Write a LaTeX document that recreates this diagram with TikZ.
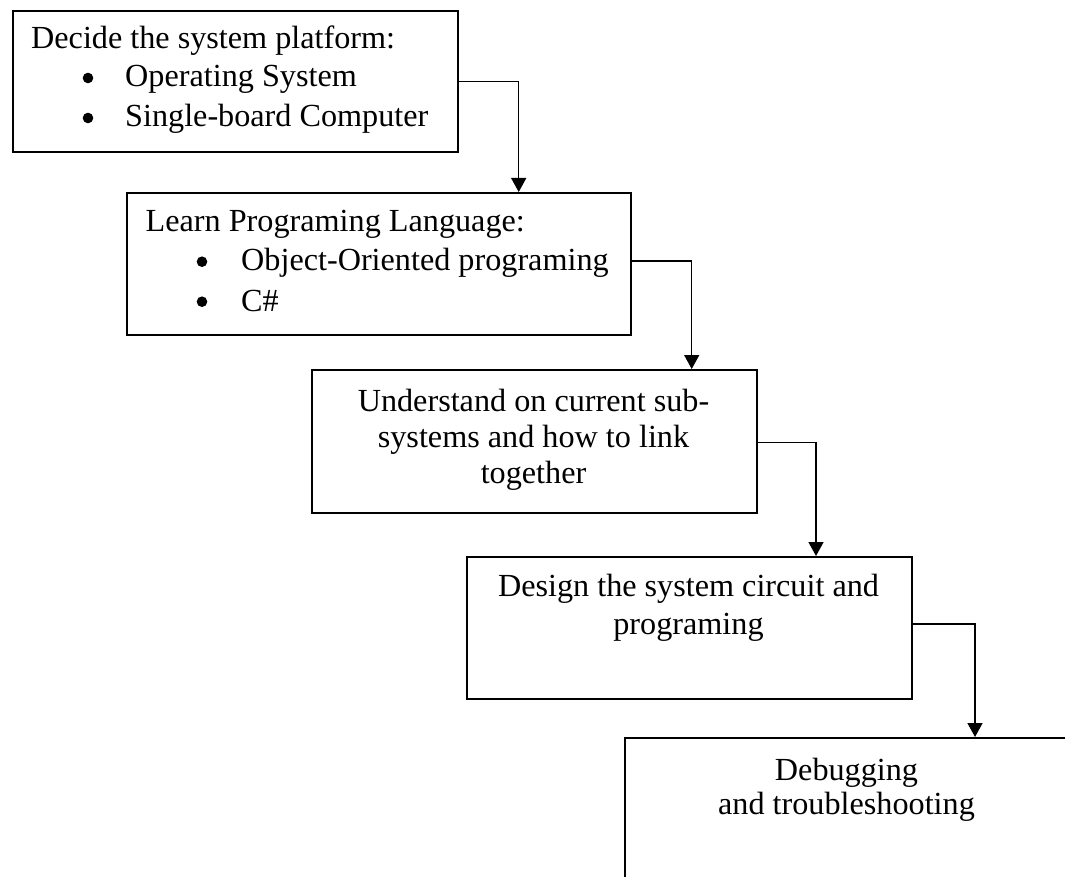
\documentclass[tikz,border=0pt]{standalone}
\usepackage{fontspec}
\setmainfont{Liberation Serif}
\usetikzlibrary{arrows.meta,calc}
\begin{document}
\begin{tikzpicture}[x=1pt,y=-1pt,
  box/.style={draw, line width=1.8pt, rectangle, anchor=north west, inner sep=0pt},
  txt/.style={font=\fontsize{32.2}{38}\selectfont, inner sep=0pt},
  conn/.style={line width=1.5pt, -{Triangle[width=15pt,length=14pt]}},
  bul/.style={fill=black}]
\useasboundingbox (0,0) rectangle (1065,877);
\clip (0,0) rectangle (1065,877);
\fill[white] (0,0) rectangle (1065,877);

% Box 1
\node[box, minimum width=445.3pt, minimum height=141pt] (b1) at (11.7,10) {};
\node[txt, anchor=base west] (t1a) at (31,49) {Decide the system platform:};
\fill[bul] (88,78) circle[radius=5.3pt];
\node[txt, anchor=base west] (t1b) at (125,87) {Operating System};
\fill[bul] (88,118) circle[radius=5.3pt];
\node[txt, anchor=base west] (t1c) at (125,127) {Single-board Computer};

% Box 2
\node[box, minimum width=504pt, minimum height=142pt] (b2) at (126,192) {};
\node[txt, anchor=base west] (t2a) at (145.5,232) {Learn Programing Language:};
\fill[bul] (202,261.7) circle[radius=5.3pt];
\node[txt, anchor=base west] (t2b) at (241,271) {Object-Oriented programing};
\fill[bul] (202,301.7) circle[radius=5.3pt];
\node[txt, anchor=base west] (t2c) at (241,311) {C\#};

% Box 3
\node[box, minimum width=445pt, minimum height=143pt] (b3) at (311,369) {};
\node[txt, anchor=base] (t3a) at (533.5,411) {Understand on current sub-};
\node[txt, anchor=base] (t3b) at (533.5,447) {systems and how to link};
\node[txt, anchor=base] (t3c) at (533.5,483) {together};

% Box 4
\node[box, minimum width=445pt, minimum height=142pt] (b4) at (466,556) {};
\node[txt, anchor=base] (t4a) at (688.5,596) {Design the system circuit and};
\node[txt, anchor=base] (t4b) at (688.5,634) {programing};

% Box 5
\node[box, minimum width=445pt, minimum height=145pt] (b5) at (624,737) {};
\node[txt, anchor=base] (t5a) at (846.5,780) {Debugging};
\node[txt, anchor=base] (t5b) at (846.5,814) {and troubleshooting};

% Connectors
\draw[conn] ($(b1.north east)+(0,71.7)$) -| ($(b2.north west)+(392.7,0)$);
\draw[conn] ($(b2.north east)+(0,69)$) -| ($(b3.north west)+(380.7,0)$);
\draw[conn] ($(b3.north east)+(0,73.3)$) -| ($(b4.north west)+(350,0)$);
\draw[conn] ($(b4.north east)+(0,68)$) -| ($(b5.north west)+(351,0)$);
\end{tikzpicture}
\end{document}
